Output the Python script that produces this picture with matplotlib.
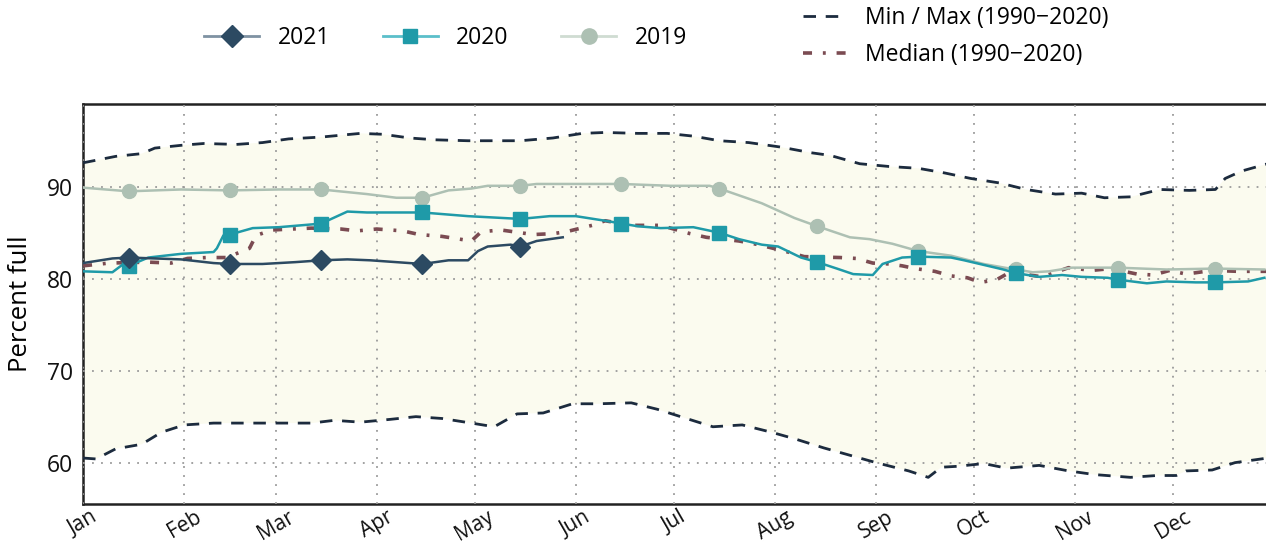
"""Reservoir storage: percent full by day of year, 2019-2021 vs 1990-2020 range."""

import matplotlib

matplotlib.use("Agg")
import matplotlib.pyplot as plt
from matplotlib.lines import Line2D

plt.rcParams["font.family"] = ["Open Sans", "DejaVu Sans"]

# --- data (day of year, percent full) ---
MONTHS = ["Jan", "Feb", "Mar", "Apr", "May", "Jun",
          "Jul", "Aug", "Sep", "Oct", "Nov", "Dec"]
MONTH_START = [0, 31, 59, 90, 120, 151, 181, 212, 243, 273, 304, 334]
MARK_DAYS = [14, 45, 73, 104, 134, 165, 195, 225, 256, 286, 317, 347]

max_days = [0, 10, 18, 22, 30, 37, 47, 55, 63, 73, 85, 92, 100, 108, 118, 126,
            134, 144, 153, 160, 170, 179, 187, 195, 204, 214, 223, 229, 238,
            247, 256, 264, 272, 281, 289, 298, 306, 313, 321, 330, 339, 347,
            350, 355, 363]
max_vals = [92.6, 93.3, 93.6, 94.2, 94.5, 94.7, 94.6, 94.8, 95.2, 95.4, 95.8,
            95.7, 95.3, 95.1, 95.0, 95.0, 95.0, 95.3, 95.8, 95.9, 95.8, 95.8,
            95.5, 95.0, 94.8, 94.3, 93.7, 93.4, 92.5, 92.2, 92.0, 91.5, 90.9,
            90.4, 89.7, 89.2, 89.3, 88.8, 88.9, 89.7, 89.6, 89.7, 90.9, 91.7,
            92.5]

min_days = [0, 4, 10, 18, 24, 31, 40, 50, 60, 70, 77, 85, 94, 102, 110, 119,
            126, 133, 141, 150, 158, 168, 176, 184, 193, 202, 211, 218, 227,
            236, 243, 253, 259, 263, 268, 276, 283, 293, 302, 310, 321, 329,
            335, 338, 346, 353, 363]
min_vals = [60.5, 60.4, 61.5, 62.0, 63.3, 64.1, 64.3, 64.3, 64.3, 64.3, 64.6,
            64.4, 64.7, 65.0, 64.8, 64.3, 63.9, 65.3, 65.4, 66.4, 66.4, 66.5,
            65.8, 64.9, 63.9, 64.1, 63.3, 62.6, 61.6, 60.7, 60.0, 59.1, 58.4,
            59.5, 59.6, 59.9, 59.4, 59.7, 59.1, 58.7, 58.4, 58.6, 58.6, 59.1,
            59.2, 60.0, 60.5]

med_days = [0, 8, 20, 27, 32, 38, 44, 51, 53, 58, 64, 70, 79, 84, 90, 98, 103,
            110, 119, 122, 128, 138, 144, 148, 156, 160, 168, 177, 186, 191,
            201, 207, 216, 221, 232, 237, 242, 247, 251, 255, 261, 266, 271,
            275, 280, 284, 294, 302, 309, 315, 323, 328, 333, 338, 346, 354,
            363]
med_vals = [81.4, 81.7, 81.8, 81.7, 82.2, 82.3, 82.3, 83.3, 84.7, 85.3, 85.4,
            85.5, 85.4, 85.2, 85.4, 85.2, 84.8, 84.6, 84.1, 85.1, 85.3, 84.8,
            84.9, 85.1, 85.8, 86.3, 85.8, 85.8, 84.9, 84.5, 84.1, 83.7, 82.9,
            82.4, 82.3, 82.2, 81.7, 81.6, 81.4, 81.1, 80.8, 80.3, 80.1, 79.6,
            79.9, 80.7, 80.2, 81.2, 80.9, 81.1, 80.5, 80.4, 80.9, 80.5, 80.9,
            80.8, 80.8]

y2021_days = [0, 9, 14, 30, 40, 45, 55, 65, 73, 81, 88, 96, 104, 112, 118,
              121, 124, 131, 134, 139, 147]
y2021_vals = [81.7, 82.2, 82.3, 82.1, 81.7, 81.6, 81.6, 81.8, 82.0, 82.1, 82.0,
              81.8, 81.6, 82.0, 82.0, 83.0, 83.5, 83.7, 83.5, 84.1, 84.5]

y2020_days = [0, 9, 12, 14, 20, 30, 40, 41, 43, 45, 52, 60, 70, 73, 81, 87,
              104, 118, 134, 143, 151, 160, 165, 170, 177, 187, 195, 201, 208,
              213, 220, 225, 231, 236, 242, 245, 251, 256, 266, 270, 276, 282,
              286, 293, 300, 306, 314, 317, 326, 332, 341, 347, 357, 362]
y2020_vals = [80.8, 80.7, 81.5, 81.4, 82.3, 82.7, 82.9, 83.3, 84.7, 84.8, 85.5,
              85.6, 85.9, 86.0, 87.3, 87.2, 87.2, 86.8, 86.5, 86.8, 86.8, 86.3,
              86.0, 85.7, 85.5, 85.6, 85.0, 84.3, 83.7, 83.5, 82.3, 81.8, 81.1,
              80.5, 80.4, 81.6, 82.3, 82.4, 82.3, 82.0, 81.5, 81.0, 80.6, 80.2,
              80.4, 80.2, 80.1, 79.9, 79.5, 79.7, 79.6, 79.6, 79.7, 80.1]

y2019_days = [0, 14, 30, 45, 60, 73, 87, 96, 104, 112, 119, 124, 134, 139,
              154, 165, 180, 192, 195, 208, 218, 225, 235, 241, 248, 256, 266,
              276, 284, 286, 291, 296, 303, 317, 332, 347, 362]
y2019_vals = [89.9, 89.5, 89.7, 89.6, 89.7, 89.7, 89.2, 88.8, 88.8, 89.6, 89.8,
              90.1, 90.1, 90.3, 90.3, 90.3, 90.1, 90.1, 89.8, 88.2, 86.6, 85.7,
              84.5, 84.3, 83.8, 83.0, 82.5, 81.6, 81.1, 81.0, 80.7, 80.8, 81.2,
              81.2, 81.0, 81.1, 81.0]

C_2021 = "#2c4a62"
C_2020 = "#1f9aa8"
C_2019 = "#adc0b3"
C_RANGE = "#1c2b3e"
C_MED = "#7b4b52"
C_FILL = "#fbfbef"


def marks(days):
    """Indices of the mid-month points that carry a marker."""
    return [i for i, d in enumerate(days) if d in MARK_DAYS]


fig = plt.figure(figsize=(12.66, 5.5), dpi=100)
ax = fig.add_axes([0.0656, 0.0836, 0.9344, 0.7274])

# band between min and max (different sampling days -> closed polygon)
ax.fill(max_days + min_days[::-1], max_vals + min_vals[::-1],
        color=C_FILL, zorder=0, lw=0)
range_ls = (0, (4.5, 3.5))
ax.plot(max_days, max_vals, color=C_RANGE, lw=2.0, ls=range_ls, zorder=3)
ax.plot(min_days, min_vals, color=C_RANGE, lw=2.0, ls=range_ls, zorder=3)
med_ls = (0, (2.5, 3, 0.8, 3))
ax.plot(med_days, med_vals, color=C_MED, lw=2.6, ls=med_ls, zorder=3)

ax.plot(y2019_days, y2019_vals, color=C_2019, lw=1.8, marker="o", ms=10,
        markevery=marks(y2019_days), zorder=4)
ax.plot(y2020_days, y2020_vals, color=C_2020, lw=1.8, marker="s", ms=9.5,
        markevery=marks(y2020_days), zorder=5)
ax.plot(y2021_days, y2021_vals, color=C_2021, lw=1.8, marker="D", ms=10,
        markevery=marks(y2021_days), zorder=6)

ax.set_xlim(0, 362.5)
ax.set_ylim(55.5, 99)
ax.set_yticks([60, 70, 80, 90])
ax.set_xticks(MONTH_START)
ax.set_xticklabels(MONTHS, rotation=30)
ax.tick_params(axis="y", length=0, labelsize=16.5, colors="#111111", pad=7)
ax.tick_params(axis="x", length=0, labelsize=15, colors="#111111", pad=2)
ax.grid(True, color="#9a9a9a", ls=(0, (1, 4)), lw=1.3)
ax.set_axisbelow(False)
for g in ax.get_xgridlines() + ax.get_ygridlines():
    g.set_zorder(1)
ax.set_ylabel("Percent full", fontsize=18.5, labelpad=10)
for side in ("left", "bottom", "top"):
    ax.spines[side].set_color("#222222")
    ax.spines[side].set_linewidth(1.8)
ax.spines["right"].set_visible(False)

year_handles = [
    Line2D([], [], color="#7f92a2", lw=2, marker="D", ms=11,
           mfc=C_2021, mec=C_2021),
    Line2D([], [], color="#5bbfca", lw=2, marker="s", ms=10,
           mfc=C_2020, mec=C_2020),
    Line2D([], [], color="#cfdcd2", lw=2, marker="o", ms=11,
           mfc=C_2019, mec=C_2019),
]
fig.legend(year_handles, ["2021", "2020", "2019"], loc="center",
           bbox_to_anchor=(0.352, 0.931), ncol=3, frameon=False,
           fontsize=16.5, handlelength=2.4, columnspacing=2.3,
           handletextpad=0.8)

range_handles = [
    Line2D([], [], color=C_RANGE, lw=2, ls=(0, (4.5, 3.5))),
    Line2D([], [], color=C_MED, lw=2.6, ls=med_ls),
]
fig.legend(range_handles, ["Min / Max (1990\u22122020)",
                           "Median (1990\u22122020)"],
           loc="center left", bbox_to_anchor=(0.618, 0.934), frameon=False,
           fontsize=16.5, handlelength=1.9, handletextpad=0.8,
           labelspacing=0.55)

fig.savefig("out.png", dpi=100)
